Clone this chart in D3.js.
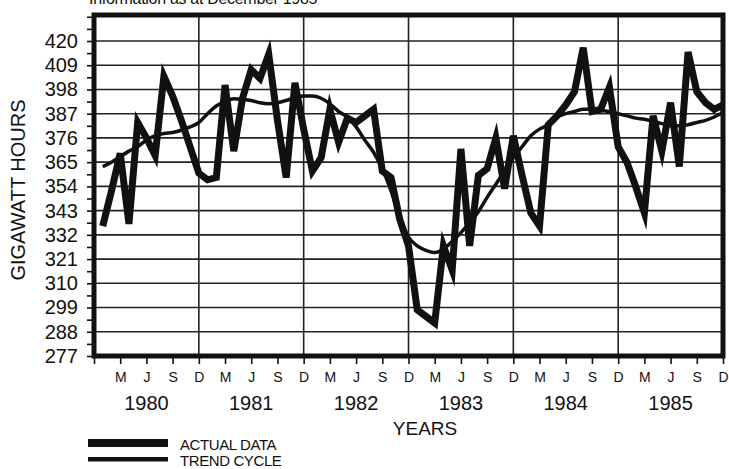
<!DOCTYPE html>
<html>
<head>
<meta charset="utf-8">
<script src="https://cdn.jsdelivr.net/npm/d3@7"></script>
<style>
  body { margin: 0; background: #fff; }
  text { font-family: "Liberation Sans", Arial, Helvetica, sans-serif; fill: #111; }
</style>
</head>
<body>
<div id="chart"></div>
<script>
// Data (monthly, Jan 1980 .. Jan 1986)
var actual = [
  336, 352, 369, 337, 383, 376, 368, 404, 395, 384, 372, 360,
  357, 358, 400, 370, 394, 407, 403, 414, 384, 358, 401, 380,
  361, 367, 389, 374, 385, 383, 386, 389, 361, 358, 339, 327,
  298, 295, 292, 327, 316, 371, 327, 359, 362, 376, 353, 377,
  359, 342, 336, 382, 386, 391, 397, 417, 388, 389, 399, 372,
  365, 354, 342, 386, 370, 392, 363, 415, 397, 392, 389, 391,
  368
];
var trend = [
  363, 365, 367.5, 370, 372, 375, 377, 378, 378.5, 379.5, 381, 383,
  387, 390.5, 392.5, 393.8, 393.5, 393, 392, 391.5, 392, 393, 394.2, 395,
  395, 394, 391.5, 388, 385.5, 381, 375, 369.5, 362, 352, 340, 331,
  327, 325, 324, 325.5, 329, 333, 337.5, 342.5, 349, 355, 361, 367,
  372, 377, 380, 382, 385.5, 387, 388, 389, 389, 388.5, 388, 387,
  386, 385, 384.5, 383.5, 382.5, 381.5, 381.5, 382, 383, 384, 385.5, 387.5,
  389
];
var years       = [1980, 1981, 1982, 1983, 1984, 1985];
var monthLabels = ["M", "J", "S", "D"];
var yTicks      = [277, 288, 299, 310, 321, 332, 343, 354, 365, 376, 387, 398, 409, 420];

var chart_width  = 729;
var chart_height = 469;

var x = d3.scaleLinear().domain([0, 72]).range([94, 723]);
var y = d3.scaleLinear().domain([277, 420]).range([356, 41]);
var plotTop = 15;

var svg = d3.select("#chart")
    .append("svg")
    .attr("width", chart_width)
    .attr("height", chart_height);

// title (cut at top in the original)
svg.append("text")
    .attr("x", 89).attr("y", 4)
    .style("font-size", "16px")
    .style("letter-spacing", "-0.3px")
    .text("Information as at December 1985");

// grid
svg.append("g").selectAll("line")
    .data(yTicks.slice(1))
    .enter().append("line")
    .attr("x1", x(0)).attr("x2", x(72))
    .attr("y1", d => y(d)).attr("y2", d => y(d))
    .style("stroke", "#222").style("stroke-width", 1.6);

svg.append("g").selectAll("line")
    .data([12, 24, 36, 48, 60])
    .enter().append("line")
    .attr("x1", d => x(d)).attr("x2", d => x(d))
    .attr("y1", plotTop).attr("y2", y(277))
    .style("stroke", "#222").style("stroke-width", 1.6);

// clip
svg.append("clipPath").attr("id", "clip")
  .append("rect")
    .attr("x", x(0)).attr("y", plotTop)
    .attr("width", x(72) - x(0)).attr("height", y(277) - plotTop);

var line = d3.line()
    .x((d, i) => x(i + 1))
    .y(d => y(d));

svg.append("path")
    .datum(trend)
    .attr("clip-path", "url(#clip)")
    .attr("d", line.curve(d3.curveMonotoneX))
    .style("fill", "none").style("stroke", "#111")
    .style("stroke-width", 3.5);

svg.append("path")
    .datum(actual)
    .attr("clip-path", "url(#clip)")
    .attr("d", line.curve(d3.curveLinear))
    .style("fill", "none").style("stroke", "#111")
    .style("stroke-width", 7)
    .style("stroke-linejoin", "miter")
    .style("stroke-miterlimit", 5);

// frame
svg.append("rect")
    .attr("x", x(0)).attr("y", plotTop)
    .attr("width", x(72) - x(0)).attr("height", y(277) - plotTop)
    .style("fill", "none").style("stroke", "#111").style("stroke-width", 5);

// y axis
var yMinor = d3.range(0, 29).map(i => 277 + i * 5.5);
var yAxis = svg.append("g")
    .attr("transform", "translate(" + (x(0) - 2) + ",0)")
    .call(d3.axisLeft(y)
        .tickValues(yMinor)
        .tickSize(5)
        .tickPadding(9)
        .tickFormat(d => yTicks.indexOf(d) >= 0 ? d : ""));
yAxis.select(".domain").remove();
yAxis.selectAll("line").style("stroke", "#111").style("stroke-width", 1.6);
yAxis.selectAll("text").style("font-size", "20px").style("fill", "#111");

// x axis
var xAxis = svg.append("g")
    .attr("transform", "translate(0," + (y(277) + 2) + ")")
    .call(d3.axisBottom(x)
        .tickValues(d3.range(0, 73, 3))
        .tickSize(6)
        .tickPadding(8)
        .tickFormat(d => d === 0 ? "" : monthLabels[(d / 3 - 1) % 4]));
xAxis.select(".domain").remove();
xAxis.selectAll("line").style("stroke", "#111").style("stroke-width", 1.6);
xAxis.selectAll("text").style("font-size", "14px").style("fill", "#111");

// year labels
svg.append("g").selectAll("text")
    .data(years)
    .enter().append("text")
    .attr("x", (d, i) => x(i * 12 + 6))
    .attr("y", 410)
    .attr("text-anchor", "middle")
    .style("font-size", "20px")
    .text(d => d);

svg.append("text")
    .attr("x", 425).attr("y", 435)
    .attr("text-anchor", "middle")
    .style("font-size", "19px")
    .text("YEARS");

svg.append("text")
    .attr("transform", "translate(25,190) rotate(-90)")
    .attr("text-anchor", "middle")
    .style("font-size", "20px")
    .text("GIGAWATT HOURS");

// legend
svg.append("rect").attr("x", 88).attr("y", 439).attr("width", 80).attr("height", 8).style("fill", "#111");
svg.append("rect").attr("x", 88).attr("y", 457).attr("width", 80).attr("height", 4.5).style("fill", "#111");
svg.append("text").attr("x", 180).attr("y", 450).style("font-size", "15px").style("letter-spacing", "-0.4px").text("ACTUAL DATA");
svg.append("text").attr("x", 180).attr("y", 466).style("font-size", "15px").style("letter-spacing", "-0.4px").text("TREND CYCLE");
</script>
</body>
</html>
